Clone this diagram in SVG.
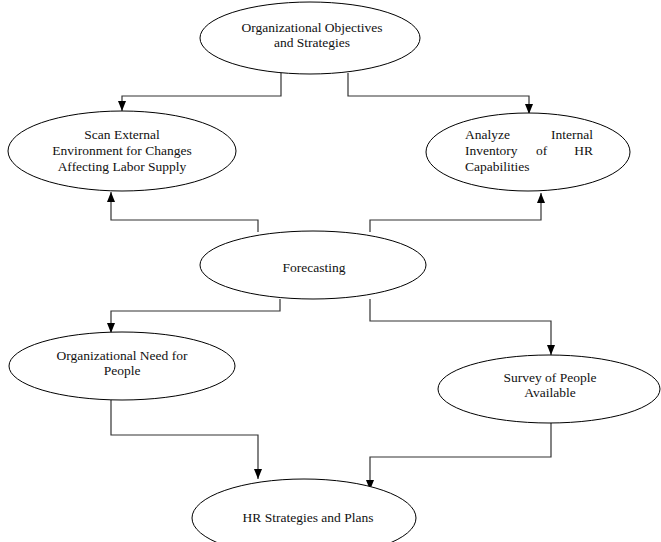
<svg xmlns="http://www.w3.org/2000/svg" width="661" height="542" viewBox="0 0 661 542">
<defs>
<style>
.node ellipse{fill:#fff;stroke:#000;stroke-width:1}
.node text{font-family:"Liberation Serif","Times New Roman",serif;font-size:13.5px;fill:#111;text-anchor:middle}
.conn polyline{fill:none;stroke:#333;stroke-width:1.2}
</style>
<marker id="arr" viewBox="0 0 10 8" markerWidth="10" markerHeight="8" refX="10" refY="4" orient="auto" markerUnits="userSpaceOnUse">
<path d="M0,0 L10,4 L0,8 z" fill="#000"/>
</marker>
</defs>
<rect width="661" height="542" fill="#fff"/>
<g id="connectors" class="conn">
<polyline points="281,73 281,96 122,96 122,111" marker-end="url(#arr)"/>
<polyline points="348,73 348,96 529,96 529,114" marker-end="url(#arr)"/>
<polyline points="258,232 258,220 111,220 111,192" marker-end="url(#arr)"/>
<polyline points="370,232 370,220 541,220 541,193" marker-end="url(#arr)"/>
<polyline points="280,299 280,311 111,311 111,333" marker-end="url(#arr)"/>
<polyline points="370,299 370,321 551,321 551,355" marker-end="url(#arr)"/>
<polyline points="111,400 111,435 258,435 258,479" marker-end="url(#arr)"/>
<polyline points="551,423 551,457 370,457 370,490" marker-end="url(#arr)"/>
</g>
<g id="objectives" class="node">
<ellipse cx="310" cy="38" rx="110" ry="36"/>
<text x="312" y="32">Organizational Objectives</text>
<text x="312" y="47">and Strategies</text>
</g>
<g id="scan" class="node">
<ellipse cx="122" cy="151" rx="114" ry="40"/>
<text x="122" y="139">Scan External</text>
<text x="122" y="155">Environment for Changes</text>
<text x="122" y="171">Affecting Labor Supply</text>
</g>
<g id="analyze" class="node">
<ellipse cx="528" cy="152" rx="102" ry="39"/>
<text x="465" y="139" style="text-anchor:start">Analyze</text>
<text x="593" y="139" style="text-anchor:end">Internal</text>
<text x="465" y="155" style="text-anchor:start">Inventory</text>
<text x="536" y="155" style="text-anchor:start">of</text>
<text x="593" y="155" style="text-anchor:end">HR</text>
<text x="465" y="171" style="text-anchor:start">Capabilities</text>
</g>
<g id="forecasting" class="node">
<ellipse cx="313" cy="265" rx="113" ry="34"/>
<text x="314" y="272">Forecasting</text>
</g>
<g id="need" class="node">
<ellipse cx="122" cy="366" rx="113" ry="34"/>
<text x="122" y="360">Organizational Need for</text>
<text x="122" y="375">People</text>
</g>
<g id="survey" class="node">
<ellipse cx="549" cy="389" rx="111" ry="34"/>
<text x="550" y="382">Survey of People</text>
<text x="550" y="397">Available</text>
</g>
<g id="hr" class="node">
<ellipse cx="304" cy="518" rx="112" ry="39"/>
<text x="308" y="522">HR Strategies and Plans</text>
</g>
</svg>
